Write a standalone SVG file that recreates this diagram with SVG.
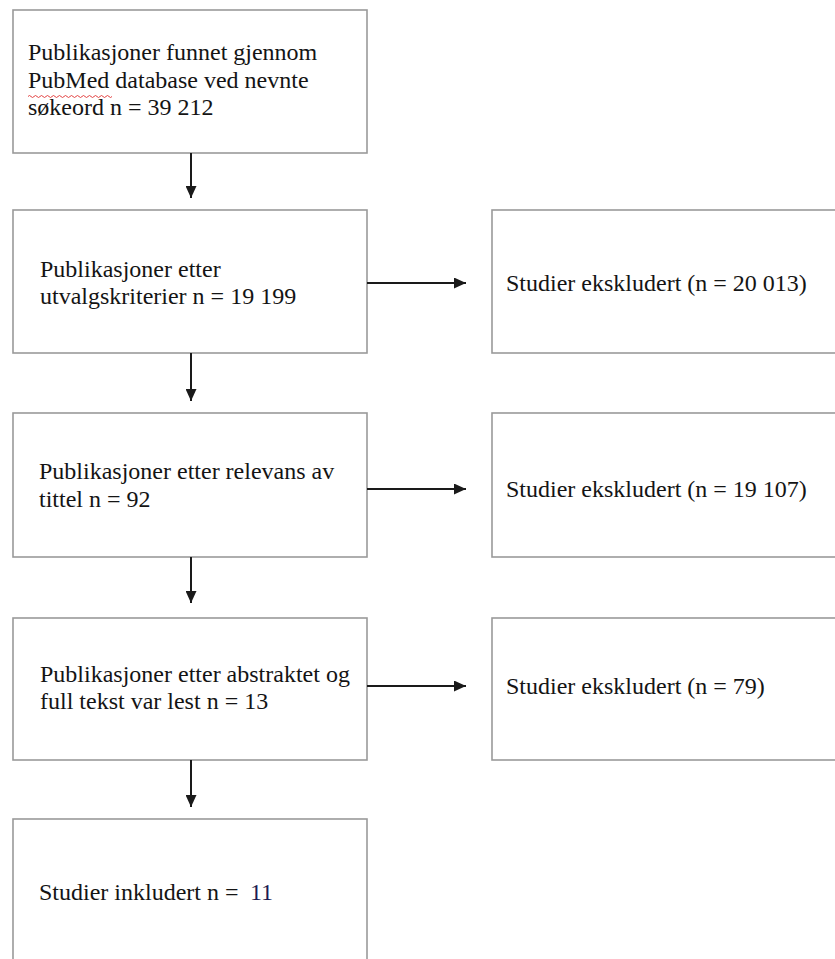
<svg xmlns="http://www.w3.org/2000/svg" width="835" height="959" viewBox="0 0 835 959">
  <style>
    .box { fill: #ffffff; stroke: #9a9a9a; stroke-width: 1.6; }
    .t { font-family: "Liberation Serif", "Times New Roman", serif; font-size: 24px; fill: #141414; }
    .arrow { stroke: #1a1a1a; stroke-width: 2; fill: none; }
  </style>
  <defs>
    <marker id="ah" markerUnits="userSpaceOnUse" markerWidth="12" markerHeight="11" refX="12" refY="5.5" orient="auto">
      <path d="M0,0 L12,5.5 L0,11 Z" fill="#1a1a1a"/>
    </marker>
  </defs>
  <rect width="835" height="959" fill="#ffffff"/>

  <g id="n1">
    <rect class="box" x="13" y="10" width="354" height="143"/>
    <text class="t" x="28" y="60">Publikasjoner funnet gjennom</text>
    <text class="t" x="28" y="88">PubMed database ved nevnte</text>
    <text class="t" x="28" y="115">søkeord n = 39 212</text>
    <path d="M28,96.5 q1.5,-2 3,0 t3,0 t3,0 t3,0 t3,0 t3,0 t3,0 t3,0 t3,0 t3,0 t3,0 t3,0 t3,0 t3,0 t3,0 t3,0 t3,0 t3,0 t3,0 t3,0 t3,0 t3,0 t3,0 t3,0 t3,0 t3,0 t3,0 t3,0" fill="none" stroke="#e03030" stroke-width="0.9"/>
  </g>

  <g id="n2">
    <rect class="box" x="13" y="210" width="354" height="143"/>
    <text class="t" x="40" y="277">Publikasjoner etter</text>
    <text class="t" x="40" y="304">utvalgskriterier n = 19 199</text>
  </g>

  <g id="e1">
    <rect class="box" x="492" y="210" width="350" height="143"/>
    <text class="t" x="506" y="291">Studier ekskludert (n = 20 013)</text>
  </g>

  <g id="n3">
    <rect class="box" x="13" y="413" width="354" height="144"/>
    <text class="t" x="39" y="479">Publikasjoner etter relevans av</text>
    <text class="t" x="39" y="507">tittel n = 92</text>
  </g>

  <g id="e2">
    <rect class="box" x="492" y="413" width="350" height="144"/>
    <text class="t" x="506" y="497">Studier ekskludert (n = 19 107)</text>
  </g>

  <g id="n4">
    <rect class="box" x="13" y="618" width="354" height="142"/>
    <text class="t" x="40" y="682">Publikasjoner etter abstraktet og</text>
    <text class="t" x="40" y="709">full tekst var lest n = 13</text>
  </g>

  <g id="e3">
    <rect class="box" x="492" y="618" width="350" height="142"/>
    <text class="t" x="506" y="694">Studier ekskludert (n = 79)</text>
  </g>

  <g id="n5">
    <rect class="box" x="13" y="819" width="354" height="160"/>
    <text class="t" x="39" y="900">Studier inkludert n = </text>
    <text class="t" x="250" y="900" style="fill:#1c1c52">11</text>
  </g>

  <g id="connectors">
    <line class="arrow" x1="191" y1="153" x2="191" y2="198" marker-end="url(#ah)"/>
    <line class="arrow" x1="191" y1="353" x2="191" y2="401" marker-end="url(#ah)"/>
    <line class="arrow" x1="191" y1="557" x2="191" y2="603" marker-end="url(#ah)"/>
    <line class="arrow" x1="191" y1="760" x2="191" y2="807" marker-end="url(#ah)"/>
    <line class="arrow" x1="367" y1="283" x2="466" y2="283" marker-end="url(#ah)"/>
    <line class="arrow" x1="367" y1="489" x2="466" y2="489" marker-end="url(#ah)"/>
    <line class="arrow" x1="367" y1="686" x2="466" y2="686" marker-end="url(#ah)"/>
  </g>
</svg>
